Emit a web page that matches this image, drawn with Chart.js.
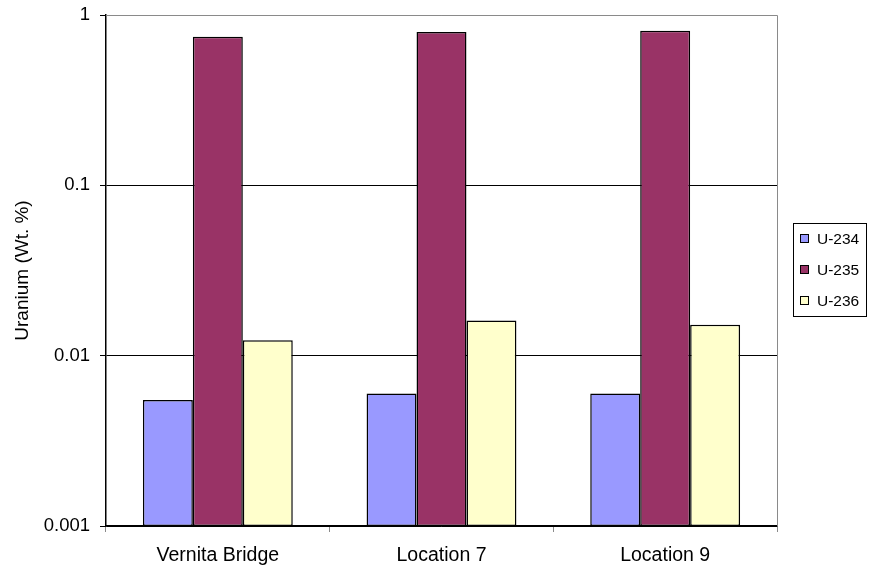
<!DOCTYPE html>
<html>
<head>
<meta charset="utf-8">
<script src="https://cdn.jsdelivr.net/npm/chart.js@4/dist/chart.umd.min.js"></script>
<style>
html,body{margin:0;padding:0;background:#fff;}
#wrap{width:872px;height:569px;position:relative;}
</style>
</head>
<body>
<div id="wrap"><canvas id="c" width="872" height="569"></canvas></div>
<script>
const categories = ["Vernita Bridge", "Location 7", "Location 9"];
const seriesNames = ["U-234", "U-235", "U-236"];
const u234 = [0.0055, 0.0060, 0.0060];
const u235 = [0.745, 0.795, 0.808];
const u236 = [0.0123, 0.0161, 0.0152];
const tickValues = [0.001, 0.01, 0.1, 1];
const tickLabels = ["0.001", "0.01", "0.1", "1"];
const yTitle = "Uranium (Wt. %)";

const colors = ["#9999FF", "#993366", "#FFFFCC"];
const FONT = "'Liberation Sans', Arial, sans-serif";

const plotFrame = {
  id: 'plotFrame',
  beforeDatasetsDraw(chart) {
    const a = chart.chartArea, ctx = chart.ctx;
    ctx.save();
    ctx.strokeStyle = '#8a8a8a';
    ctx.lineWidth = 1;
    ctx.beginPath();
    ctx.moveTo(a.left, a.top + 0.5);
    ctx.lineTo(Math.round(a.right) + 0.5, a.top + 0.5);
    ctx.lineTo(Math.round(a.right) + 0.5, a.bottom);
    ctx.stroke();
    ctx.restore();
  }
};

const boxLegend = {
  id: 'boxLegend',
  afterDraw(chart) {
    const ctx = chart.ctx;
    const x0 = 793.5, y0 = 223.5, w = 73, h = 93;
    ctx.save();
    ctx.fillStyle = '#fff';
    ctx.fillRect(x0, y0, w, h);
    ctx.strokeStyle = '#000';
    ctx.lineWidth = 1;
    ctx.strokeRect(x0, y0, w, h);
    ctx.font = "15.5px " + FONT;
    ctx.textBaseline = 'middle';
    chart.data.datasets.forEach((ds, i) => {
      const cy = 239 + i * 31;
      ctx.fillStyle = ds.backgroundColor;
      ctx.fillRect(800.5, cy - 4.5, 8, 8);
      ctx.strokeStyle = '#000';
      ctx.strokeRect(800.5, cy - 4.5, 8, 8);
      ctx.fillStyle = '#000';
      ctx.fillText(ds.label, 817, cy + 1);
    });
    ctx.restore();
  }
};

new Chart(document.getElementById('c'), {
  type: 'bar',
  data: {
    labels: categories,
    datasets: [
      { label: seriesNames[0], data: u234, backgroundColor: colors[0] },
      { label: seriesNames[1], data: u235, backgroundColor: colors[1] },
      { label: seriesNames[2], data: u236, backgroundColor: colors[2] }
    ].map(d => Object.assign(d, { borderColor: '#000', borderWidth: 1.5, categoryPercentage: 0.67, barPercentage: 1.0, borderSkipped: false }))
  },
  options: {
    responsive: false,
    animation: false,
    devicePixelRatio: 1,
    layout: { padding: { left: 0, right: 95, top: 15, bottom: 0 } },
    plugins: { legend: { display: false }, tooltip: { enabled: false } },
    scales: {
      x: {
        offset: true,
        grid: { offset: true, drawOnChartArea: false, drawTicks: true, tickLength: 6, color: '#8a8a8a' },
        border: { color: '#000', width: 1.5 },
        ticks: { color: '#000', font: { size: 19.5, family: FONT }, padding: 12, maxRotation: 0 },
        afterFit(s) { s.height = 43; s.paddingLeft = 0; s.paddingRight = 0; }
      },
      y: {
        type: 'logarithmic',
        min: 0.001,
        max: 1,
        afterBuildTicks(s) { s.ticks = tickValues.map(v => ({ value: v })); },
        grid: {
          color: ctx => (ctx.tick && ctx.tick.value === 1 ? '#8a8a8a' : '#000'),
          tickColor: '#000',
          tickLength: 6,
          lineWidth: 1
        },
        border: { color: '#000', width: 1.5 },
        ticks: {
          color: '#000',
          font: { size: 18.5, family: FONT },
          padding: 10,
          callback: (v) => { const i = tickValues.indexOf(v); return i >= 0 ? tickLabels[i] : ''; }
        },
        title: { display: true, text: yTitle, color: '#000', font: { size: 19, family: FONT }, padding: { top: 11, bottom: 0 } },
        afterFit(s) { s.width = 106; s.paddingTop = 0; s.paddingBottom = 0; }
      }
    }
  },
  plugins: [plotFrame, boxLegend]
});
</script>
</body>
</html>
